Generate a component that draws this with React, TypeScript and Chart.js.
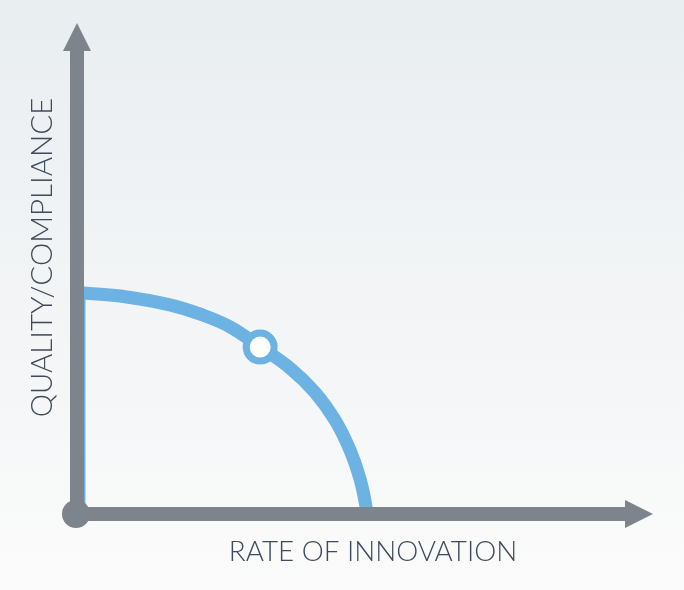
import React, { useEffect, useRef } from "react";
import { Chart, registerables } from "chart.js";

Chart.register(...registerables);

// Frontier curve (rate of innovation vs quality/compliance)
const curveX = [0, 1.2, 7.5, 16.1, 21.4, 26.6, 31.8, 37.0, 41.3, 44.8, 47.4, 49.1, 50.1, 50.4];
const curveY = [45.1, 45.0, 44.4, 42.6, 40.7, 38.1, 34.0, 29.7, 24.8, 19.1, 13.0, 7.3, 2.0, -1.0];

// Current position marker
const markerX = [31.8];
const markerY = [34.0];

// Faint line running along the vertical axis
const edgeX = [1.3, 1.3];
const edgeY = [45.0, 2.0];

const xTitle = "RATE OF INNOVATION";
const yTitle = "QUALITY/COMPLIANCE";

const BLUE = "#6cb2e2";
const AXIS = "#7d848b";
const TEXT = "#3f4b5a";

const toPoints = (xs: number[], ys: number[]) => xs.map((x, i) => ({ x, y: ys[i] }));

const arrowsPlugin = {
  id: "arrows",
  afterDatasetsDraw(chart: any) {
    const { ctx, scales } = chart;
    const x = scales.x;
    const y = scales.y;
    const ox = x.getPixelForValue(0);
    const oy = y.getPixelForValue(0);
    const topY = y.getPixelForValue(100);
    const rightX = x.getPixelForValue(100);
    const shaft = 14;
    const headLen = 28;
    const headHalf = 14;
    ctx.save();
    ctx.fillStyle = AXIS;
    // vertical shaft
    ctx.fillRect(ox - shaft / 2, topY + headLen - 1, shaft, oy - (topY + headLen - 1));
    // vertical head
    ctx.beginPath();
    ctx.moveTo(ox, topY);
    ctx.lineTo(ox + headHalf, topY + headLen);
    ctx.lineTo(ox - headHalf, topY + headLen);
    ctx.closePath();
    ctx.fill();
    // horizontal shaft
    ctx.fillRect(ox, oy - shaft / 2, rightX - headLen + 1 - ox, shaft);
    // horizontal head
    ctx.beginPath();
    ctx.moveTo(rightX, oy);
    ctx.lineTo(rightX - headLen, oy - headHalf);
    ctx.lineTo(rightX - headLen, oy + headHalf);
    ctx.closePath();
    ctx.fill();
    // origin dot
    ctx.beginPath();
    ctx.arc(ox - 1, oy, 14, 0, Math.PI * 2);
    ctx.fill();

    // titles
    ctx.fillStyle = TEXT;
    ctx.textAlign = "center";
    ctx.textBaseline = "middle";
    ctx.font = "300 27.8px Lato";
    ctx.fillText(xTitle, (ox + rightX) / 2 + 8, oy + 38);
    ctx.translate(ox - 35, (oy + topY) / 2 - 11);
    ctx.rotate(-Math.PI / 2);
    ctx.font = "300 29.5px Lato";
    ctx.fillText(yTitle, 0, 0);
    ctx.restore();
  },
};

export default function App() {
  const ref = useRef<HTMLCanvasElement>(null);

  useEffect(() => {
    document.body.style.margin = "0";
    const canvas = ref.current;
    if (!canvas) return;
    const chart = new Chart(canvas, {
      type: "line",
      data: {
        datasets: [
          {
            data: toPoints(markerX, markerY),
            showLine: false,
            pointRadius: 14,
            pointBorderWidth: 7,
            pointBackgroundColor: "#ffffff",
            pointBorderColor: BLUE,
            clip: false,
          } as any,
          {
            data: toPoints(curveX, curveY),
            borderColor: BLUE,
            borderWidth: 13,
            borderCapStyle: "butt",
            tension: 0.4,
            pointRadius: 0,
            fill: false,
            clip: false,
          } as any,
          {
            data: toPoints(edgeX, edgeY),
            borderColor: BLUE,
            borderWidth: 2,
            pointRadius: 0,
            fill: false,
            clip: false,
          } as any,
        ],
      },
      options: {
        responsive: false,
        animation: false,
        events: [],
        layout: { padding: { left: 77, right: 31, top: 23, bottom: 76 } },
        scales: {
          x: { type: "linear", min: 0, max: 100, display: false },
          y: { type: "linear", min: 0, max: 100, display: false },
        },
        plugins: {
          legend: { display: false },
          tooltip: { enabled: false },
        },
      },
      plugins: [arrowsPlugin],
    });
    return () => chart.destroy();
  }, []);

  return (
    <div
      style={{
        position: "fixed",
        left: 0,
        top: 0,
        width: 684,
        height: 590,
        background: "linear-gradient(to bottom, #e9eef1 0%, #f3f5f6 55%, #fbfbfb 100%)",
      }}
    >
      <canvas ref={ref} width={684} height={590} style={{ display: "block" }} />
    </div>
  );
}
